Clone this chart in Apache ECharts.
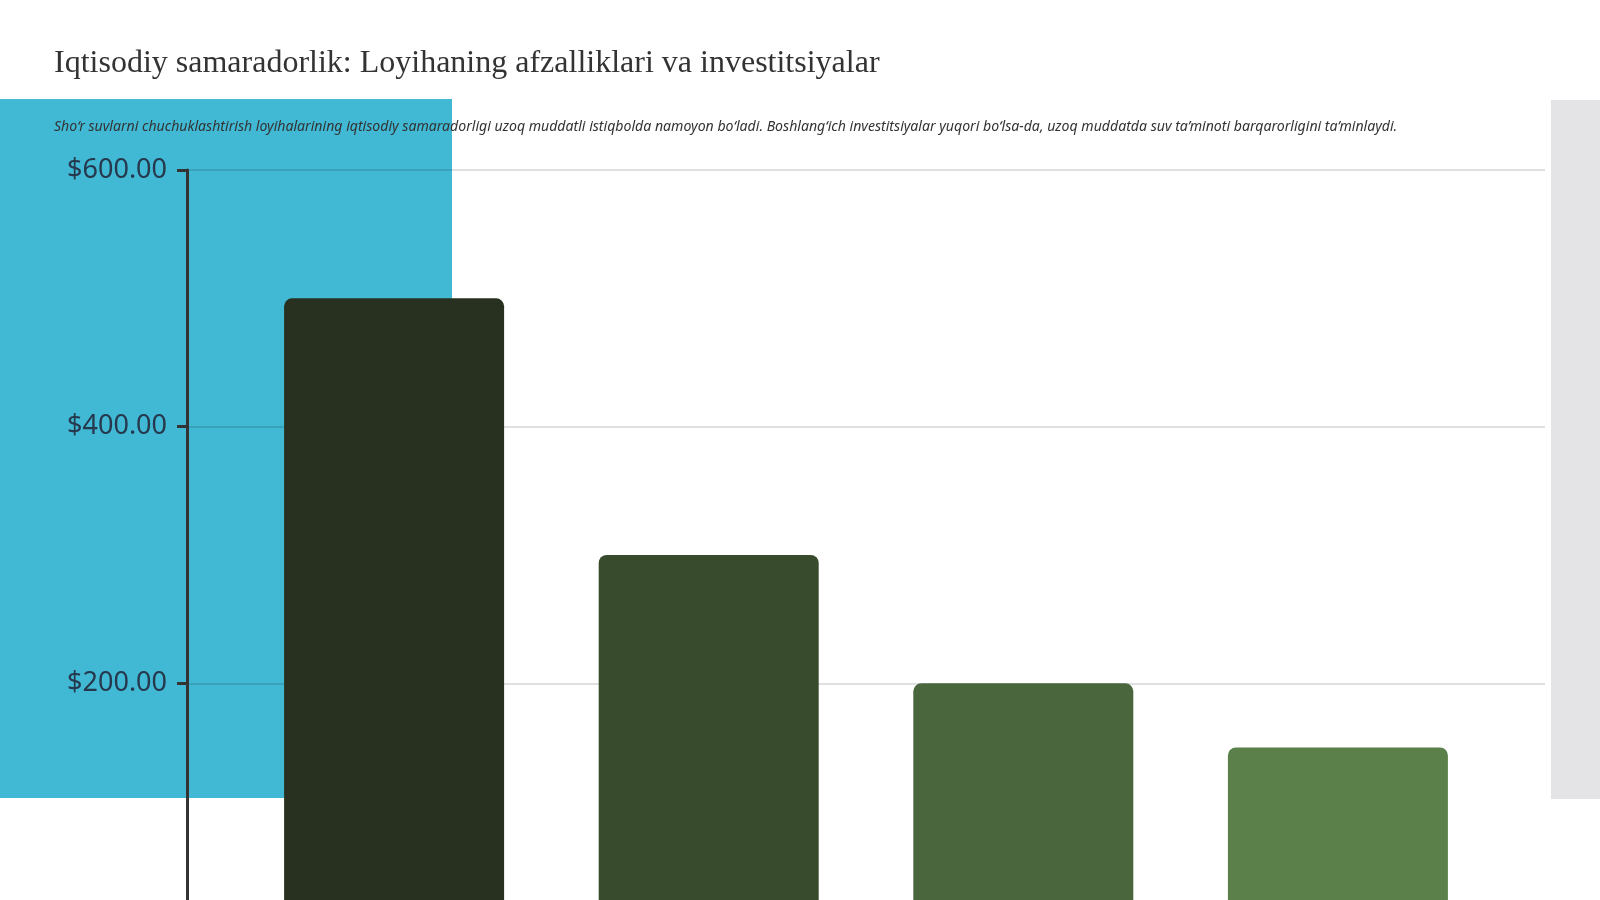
<!DOCTYPE html>
<html><head><meta charset="utf-8">
<script src="https://cdn.jsdelivr.net/npm/echarts@6/dist/echarts.min.js"></script>
<style>html,body{margin:0;padding:0;background:#fff}#c{width:1600px;height:900px}</style>
</head><body><div id="c"></div>
<script>
const titleText = "Iqtisodiy samaradorlik: Loyihaning afzalliklari va investitsiyalar";
const subtitleText = "Sho‘r suvlarni chuchuklashtirish loyihalarining iqtisodiy samaradorligi uzoq muddatli istiqbolda namoyon bo‘ladi. Boshlang‘ich investitsiyalar yuqori bo‘lsa-da, uzoq muddatda suv ta’minoti barqarorligini ta’minlaydi.";
const categories = ["Iqtisodiy samaradorlik"];
const seriesNames = ["Boshlang‘ich investitsiyalar", "Yillik xarajatlar", "Yillik tejash", "Qo‘shimcha foyda"];
const seriesValues = [500, 300, 200, 150];
const seriesColors = ["#28311f", "#384b2c", "#4a663d", "#5b8049"];
const yTicks = [0, 200, 400, 600];

const chart = echarts.init(document.getElementById('c'), null, {renderer: 'canvas'});
const series = seriesNames.map((n, i) => ({
  name: n, type: 'bar', data: [seriesValues[i]], barWidth: 220, barGap: '43%',
  itemStyle: {color: seriesColors[i], borderRadius: [8, 8, 0, 0]}, z: 3
}));
chart.setOption({
  backgroundColor: '#ffffff',
  animation: false,
  graphic: [
    {type: 'rect', shape: {x: 0, y: 99, width: 452, height: 699}, style: {fill: '#41b9d5'}, z: -10, silent: true},
    {type: 'rect', shape: {x: 1551, y: 100, width: 49, height: 699}, style: {fill: '#e4e3e5'}, z: -10, silent: true}
  ],
  title: [
    {text: titleText, left: 49, top: 43, padding: 5, textStyle: {fontFamily: 'Liberation Serif', fontWeight: 'normal', fontSize: 32, color: '#333333'}},
    {text: subtitleText, left: 49, top: 115, padding: 5, textStyle: {fontFamily: 'Noto Sans', fontStyle: 'italic', fontWeight: 'normal', fontSize: 14.1, color: '#333333'}}
  ],
  grid: {left: 187, top: 170, width: 1358, height: 770, containLabel: false, outerBoundsMode: 'none'},
  xAxis: {type: 'category', data: categories, axisLabel: {show: false}, axisTick: {show: false}, axisLine: {show: false}},
  yAxis: {
    type: 'value', min: yTicks[0], max: yTicks[yTicks.length - 1], interval: 200,
    axisLine: {show: true, lineStyle: {color: '#333333', width: 3}},
    axisTick: {show: true, length: 10, lineStyle: {color: '#333333', width: 3}},
    axisLabel: {margin: 20, fontFamily: 'Noto Sans', fontSize: 27, color: '#26384c', padding: [10, 0, 0, 0],
      formatter: v => '$' + v.toFixed(2)},
    splitLine: {show: true, lineStyle: {color: 'rgba(0,0,0,0.12)', width: 2}}
  },
  series: series
});
</script></body></html>
